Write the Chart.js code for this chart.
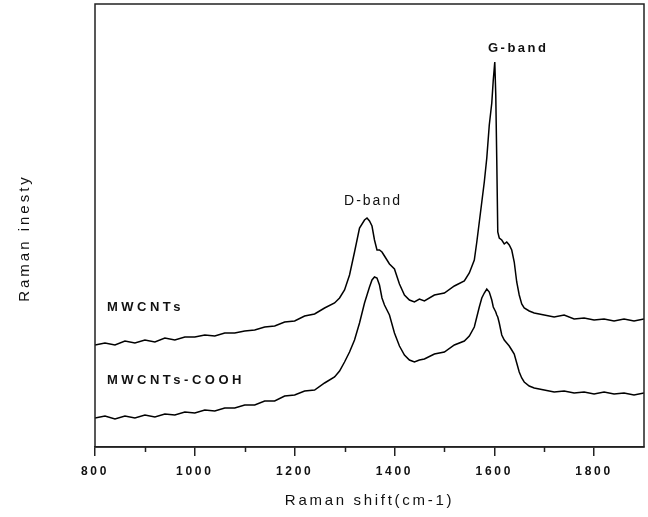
<!DOCTYPE html>
<html>
<head>
<meta charset="utf-8">
<script src="https://cdn.jsdelivr.net/npm/chart.js@4/dist/chart.umd.min.js"></script>
<style>
    html, body { margin: 0; padding: 0; background: #fff; }
    canvas { display: block; }
</style>
</head>
<body>
<canvas id="ramanChart" width="648" height="517"></canvas>
<script>
// --- Data (arbitrary intensity units) ---
const ramanShift = [
    800, 820, 840, 860, 880, 900, 920, 940, 960, 980, 1000, 1020, 1040, 1060, 1080, 1100, 1120, 1140, 1160, 1180, 1200, 1220, 1240, 1260, 1280,
    1290, 1300, 1310, 1320, 1330, 1340, 1345, 1350, 1355, 1360, 1365, 1370, 1375, 1380, 1390, 1400, 1410, 1420, 1430, 1440, 1450, 1460,
    1480, 1500, 1520, 1540, 1550, 1560, 1565, 1570, 1575, 1580, 1585, 1590, 1595, 1598, 1601, 1603, 1605, 1607, 1610, 1615, 1620, 1625,
    1630, 1635, 1640, 1645, 1650, 1655, 1660, 1670, 1680,
    1700, 1720, 1740, 1760, 1780, 1800, 1820, 1840, 1860, 1880, 1900
];

const mwcntIntensity = [
    105, 107, 105, 109, 107, 110, 108, 112, 110, 113, 113, 115, 114, 117, 117, 119, 120, 123, 124, 128, 129, 134, 136, 142, 147,
    152, 160, 175, 198, 222, 230, 232, 229, 224, 210, 200, 200, 198, 194, 186, 181, 166, 155, 150, 148, 151, 149,
    155, 157, 164, 169, 177, 190, 208, 228, 248, 268, 292, 325, 347, 370, 388, 355, 290, 218, 212, 210, 206, 208,
    205, 200, 188, 168, 155, 146, 142, 139, 137,
    135, 133, 135, 131, 132, 130, 131, 129, 131, 129, 131
];

const coohIntensity = [
    32, 34, 31, 34, 32, 35, 33, 36, 35, 38, 37, 40, 39, 42, 42, 45, 45, 49, 49, 54, 55, 59, 60, 67, 73,
    79, 88, 98, 110, 127, 147, 155, 163, 170, 173, 172, 165, 152, 145, 135, 117, 104, 95, 90, 88, 90, 91,
    96, 98, 105, 109, 114, 123, 133, 143, 152, 157, 161, 158, 150, 143, 140, 138, 135, 133, 127, 115, 110, 107,
    104, 100, 96, 87, 78, 72, 68, 64, 62,
    60, 58, 59, 57, 58, 56, 58, 56, 57, 55, 57
];

const xMajorTicks = [800, 1000, 1200, 1400, 1600, 1800];
const xMinorTicks = [900, 1100, 1300, 1500, 1700];
const seriesNames = ['MWCNTs', 'MWCNTs-COOH'];

const toPoints = ys => ramanShift.map((x, i) => ({ x: x, y: ys[i] }));
const FONT = '"Liberation Sans", Arial, sans-serif';

// Box frame, minor ticks, y title and in-plot labels
const spectrumDecor = {
    id: 'spectrumDecor',
    beforeDraw(chart) {
        chart.ctx.letterSpacing = '2.7px';
    },
    afterDraw(chart) {
        const { ctx, chartArea, scales } = chart;
        const xs = scales.x, ys = scales.y;
        ctx.save();
        ctx.strokeStyle = '#222';
        ctx.lineWidth = 1.5;
        ctx.strokeRect(chartArea.left, chartArea.top, chartArea.right - chartArea.left, chartArea.bottom - chartArea.top);

        // minor ticks
        ctx.beginPath();
        xMinorTicks.forEach(v => {
            const px = Math.round(xs.getPixelForValue(v)) + 0.5;
            ctx.moveTo(px, chartArea.bottom);
            ctx.lineTo(px, chartArea.bottom + 5);
        });
        ctx.stroke();

        ctx.fillStyle = '#111';
        ctx.textBaseline = 'middle';

        // y axis title
        ctx.save();
        ctx.translate(25, 238);
        ctx.rotate(-Math.PI / 2);
        ctx.textAlign = 'center';
        ctx.letterSpacing = '3px';
        ctx.font = '15px ' + FONT;
        ctx.fillText('Raman inesty', 0, 0);
        ctx.restore();

        // band labels
        ctx.textAlign = 'center';
        ctx.letterSpacing = '2px';
        ctx.font = '14px ' + FONT;
        ctx.fillText('D-band', xs.getPixelForValue(1357), ys.getPixelForValue(249));
        ctx.font = 'bold 13px ' + FONT;
        ctx.letterSpacing = '2.5px';
        ctx.fillText('G-band', xs.getPixelForValue(1648), ys.getPixelForValue(402));

        // series labels
        ctx.textAlign = 'left';
        ctx.letterSpacing = '3.5px';
        ctx.fillText(seriesNames[0], xs.getPixelForValue(824), ys.getPixelForValue(143));
        ctx.fillText(seriesNames[1], xs.getPixelForValue(824), ys.getPixelForValue(70));
        ctx.restore();
    }
};

new Chart(document.getElementById('ramanChart'), {
    type: 'line',
    data: {
        datasets: [
            {
                label: seriesNames[0],
                data: toPoints(mwcntIntensity),
                borderColor: '#000',
                borderWidth: 1.5,
                pointRadius: 0,
                tension: 0,
                fill: false
            },
            {
                label: seriesNames[1],
                data: toPoints(coohIntensity),
                borderColor: '#000',
                borderWidth: 1.5,
                pointRadius: 0,
                tension: 0,
                fill: false
            }
        ]
    },
    options: {
        responsive: false,
        animation: false,
        devicePixelRatio: 1,
        layout: { padding: { left: 95, right: 4, top: 4, bottom: 0 } },
        plugins: {
            legend: { display: false },
            tooltip: { enabled: false }
        },
        scales: {
            x: {
                type: 'linear',
                min: 800,
                max: 1900,
                afterBuildTicks: s => { s.ticks = xMajorTicks.map(v => ({ value: v })); },
                afterFit: s => { s.height = 70; },
                grid: { drawOnChartArea: false, drawTicks: true, tickLength: 9, color: '#222', lineWidth: 1.5 },
                border: { display: true, color: '#222', width: 1.5 },
                ticks: {
                    color: '#111',
                    padding: 8,
                    maxRotation: 0,
                    autoSkip: false,
                    callback: v => String(v),
                    font: { family: FONT, size: 12, weight: 'bold' }
                },
                title: {
                    display: true,
                    text: 'Raman shift(cm-1)',
                    color: '#111',
                    padding: { top: 0, bottom: 7 },
                    font: { family: FONT, size: 15 }
                }
            },
            y: {
                type: 'linear',
                display: false,
                min: 3,
                max: 446
            }
        }
    },
    plugins: [spectrumDecor]
});
</script>
</body>
</html>
